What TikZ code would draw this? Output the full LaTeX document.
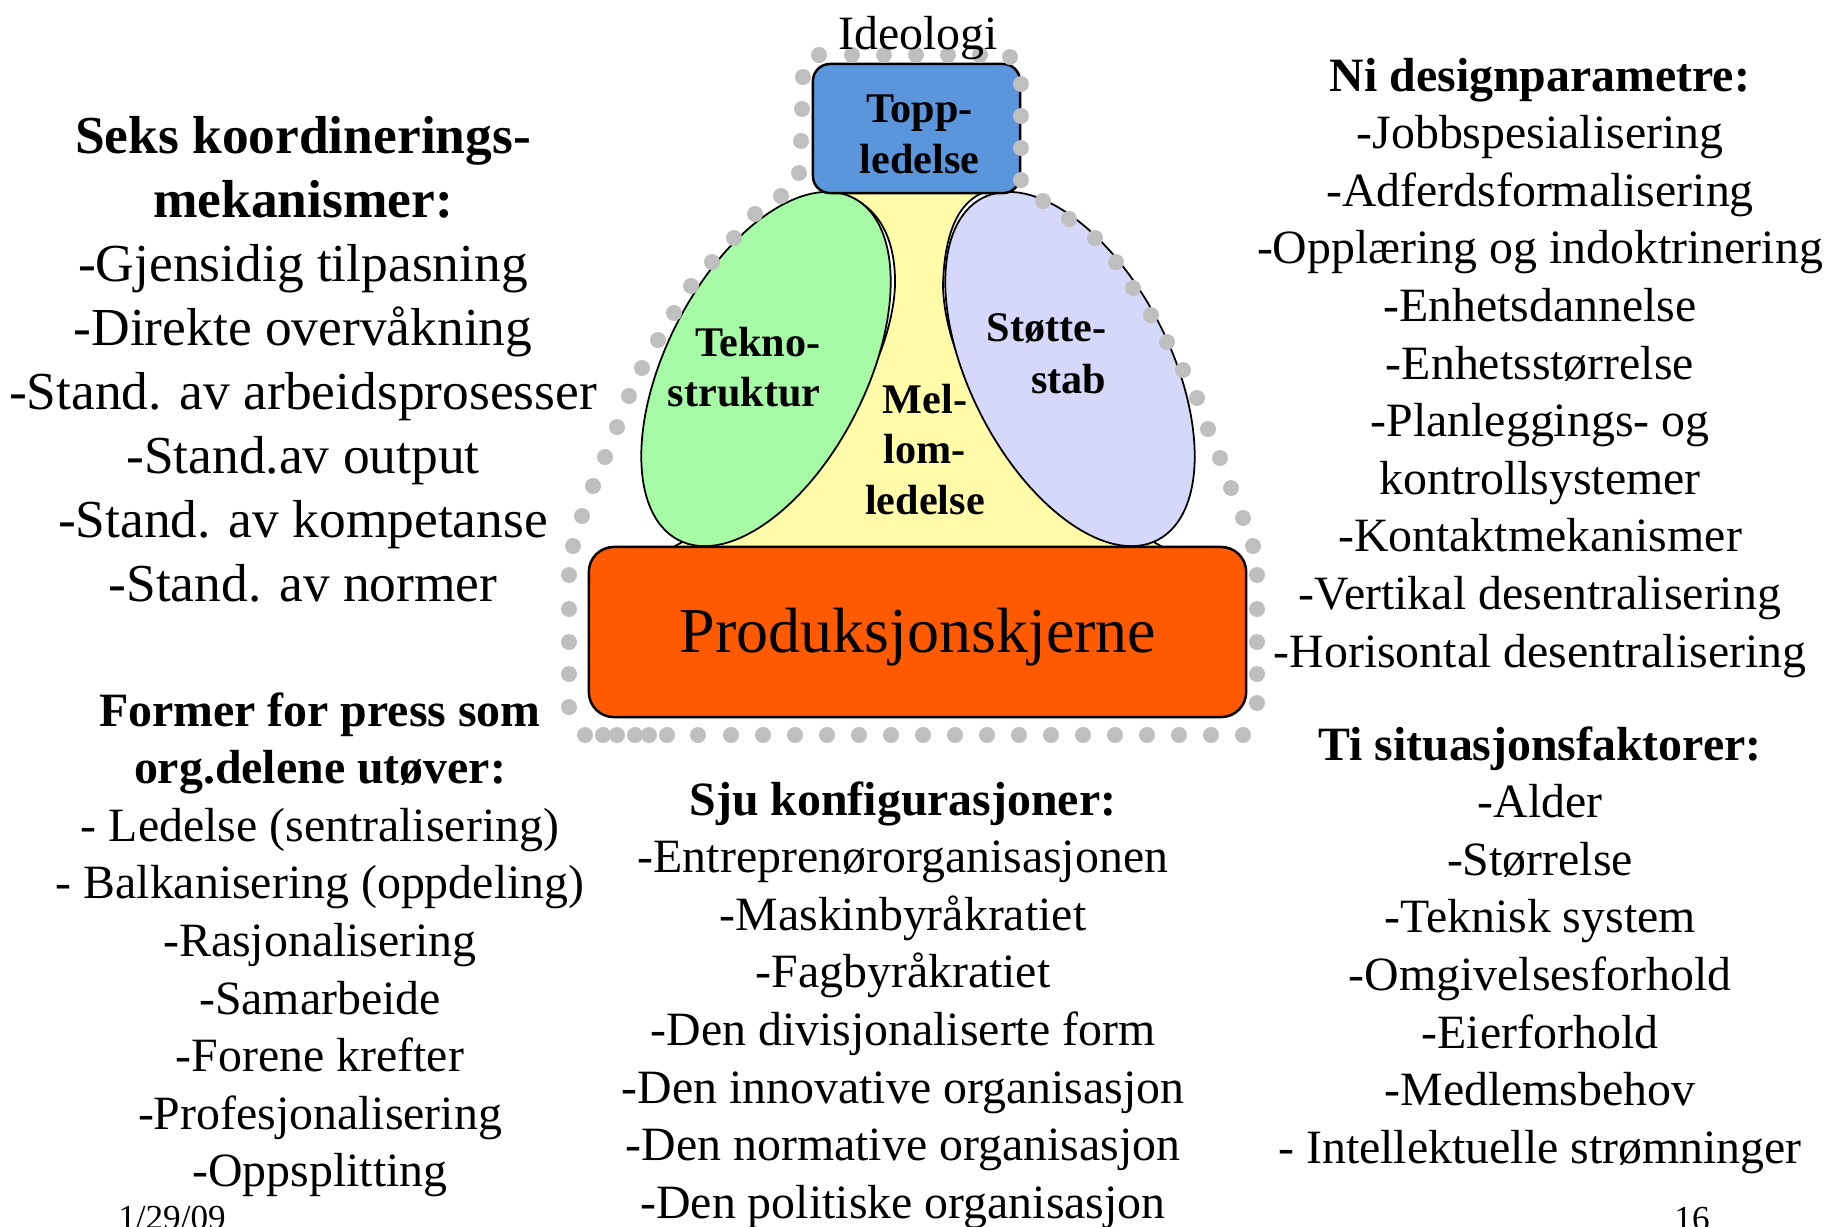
\documentclass[tikz,border=0pt]{standalone}
\usepackage{fontspec}
\setmainfont{Liberation Serif}
\usetikzlibrary{shapes.geometric}
\definecolor{toppblue}{RGB}{91,150,220}
\definecolor{teknogreen}{RGB}{166,250,166}
\definecolor{stottelilac}{RGB}{214,216,250}
\definecolor{mellomyellow}{RGB}{255,251,168}
\definecolor{kjerneorange}{RGB}{255,90,0}
\definecolor{dotgrey}{RGB}{191,191,191}
\newcommand{\headsize}{\fontsize{15.2}{18}\selectfont}
\newcommand{\listsize}{\fontsize{13.6}{16}\selectfont}
\newcommand{\partsize}{\fontsize{12}{14}\selectfont\bfseries}
\tikzset{
    part/.style={ % parts of the organisation
        draw=black,
        line width=0.7pt,
        inner sep=0pt
        },
    lobe/.style={ % tilted ellipses
        part,
        ellipse,
        line width=0.5pt,
        minimum width=3.84cm,
        minimum height=2cm
        },
    ptxt/.style={ % text inside the parts
        anchor=base,
        inner sep=0pt,
        font=\partsize
        },
    ltxt/.style={ % list lines
        anchor=base,
        inner sep=0pt,
        font=\listsize
        },
    dot/.style={
        fill=dotgrey
        }
}
\begin{document}
\begin{tikzpicture}[x=0.01cm, y=-0.01cm]
\useasboundingbox (0,0) rectangle (1829,1226);
\clip (0,0) rectangle (1829,1226);

%%%%% middle line (yellow, behind everything)
\draw[fill=mellomyellow, line width=0.5pt] (840,193)
  .. controls (880,205) and (896,240) .. (895,286)
  .. controls (893,330) and (872,385) .. (835,430)
  .. controls (780,500) and (700,530) .. (672,548)
  -- (1164,548)
  .. controls (1136,530) and (1056,500) .. (1001,430)
  .. controls (964,385) and (944,330) .. (943,286)
  .. controls (944,240) and (955,205) .. (982,193) -- cycle;

%%%%% technostructure and support staff
\node[lobe, fill=teknogreen, rotate=63] (tekno) at (766,369) {};
\node[lobe, fill=stottelilac, rotate=-63] (stotte) at (1070,369) {};

%%%%% strategic apex
\node[part, fill=toppblue, rounded corners=0.17cm,
      minimum width=2.07cm, minimum height=1.29cm] (topp) at (916.5,128.5) {};

%%%%% operating core
\node[part, fill=kjerneorange, rounded corners=0.25cm,
      minimum width=6.57cm, minimum height=1.70cm] (kjerne) at (917.5,632) {};
\node[ltxt, font=\fontsize{18.2}{22}\selectfont] (kjernetxt) at (918,652) {Produksjonskjerne};

%%%%% ideology dots
\foreach \x/\y in {819/55,852/55,884/55,916/55,948/55,980/55,1010/57,
  803/77,802/109,801/141,799/173,
  781/196,755/214,734/238,712/262,691/286,674/313,658/340,642/368,
  629/396,617/427,605/457,593/486,582/516,573/546,
  569/575,569/609,569/642,569/674,569/707,
  585/735,603/735,617/735,635/735,649/735,667/735,698/735,731/735,
  763/735,795/735,827/735,859/735,891/735,923/735,955/735,987/735,
  1019/735,1051/735,1083/735,1115/735,1147/735,1179/735,1211/735,1243/735,
  1257/703,1257/674,1257/642,1257/609,1257/575,
  1253/546,1243/518,1231/488,1220/458,1208/429,1197/398,1183/370,
  1167/342,1151/315,1133/288,1116/262,1095/238,1069/219,1043/201,
  1021/180,1021/148,1021/116,1021/84}
  \fill[dot] (\x,\y) circle[radius=8];

%%%%% labels of the parts
\node[ltxt] (ideologi) at (918,49) {Ideologi};
\node[ptxt] (topp1) at (919.5,122) {Topp-};
\node[ptxt] (topp2) at (919.5,173) {ledelse};
\node[ptxt, anchor=base east] (tekno1) at (821,356) {Tekno-};
\node[ptxt, anchor=base east] (tekno2) at (821,406) {struktur};
\node[ptxt, anchor=base east] (stotte1) at (1107,341) {Støtte-};
\node[ptxt, anchor=base east] (stotte2) at (1107,393) {stab};
\node[ptxt] (mellom1) at (925,413) {Mel-};
\node[ptxt] (mellom2) at (925,463) {lom-};
\node[ptxt] (mellom3) at (925,514) {ledelse};

%%%%% coordinating mechanisms
\foreach \t [count=\i from 0] in {\textbf{Seks koordinerings-},\textbf{mekanismer:},
  -Gjensidig tilpasning,-Direkte overvåkning,-Stand. av arbeidsprosesser,
  -Stand.av output,-Stand. av kompetanse,-Stand. av normer}
  \node[ltxt, font=\headsize] (koord\i) at (303,153+64*\i) {\t};

%%%%% pressures
\foreach \t [count=\i from 0] in {\textbf{Former for press som},\textbf{org.delene utøver:},
  - Ledelse (sentralisering),- Balkanisering (oppdeling),-Rasjonalisering,
  -Samarbeide,-Forene krefter,-Profesjonalisering,-Oppsplitting}
  \node[ltxt] (press\i) at (320,726+57.6*\i) {\t};

%%%%% configurations
\foreach \t [count=\i from 0] in {\textbf{Sju konfigurasjoner:},
  -Entreprenørorganisasjonen,-Maskinbyråkratiet,-Fagbyråkratiet,
  -Den divisjonaliserte form,-Den innovative organisasjon,
  -Den normative organisasjon,-Den politiske organisasjon}
  \node[ltxt] (konf\i) at (903,815+57.6*\i) {\t};

%%%%% design parameters
\foreach \t [count=\i from 0] in {\textbf{Ni designparametre:},
  -Jobbspesialisering,-Adferdsformalisering,-Opplæring og indoktrinering,
  -Enhetsdannelse,-Enhetsstørrelse,-Planleggings- og,kontrollsystemer,
  -Kontaktmekanismer,-Vertikal desentralisering,-Horisontal desentralisering}
  \node[ltxt] (param\i) at (1540,91+57.6*\i) {\t};

%%%%% situational factors
\foreach \t [count=\i from 0] in {\textbf{Ti situasjonsfaktorer:},
  -Alder,-Størrelse,-Teknisk system,-Omgivelsesforhold,-Eierforhold,
  -Medlemsbehov,- Intellektuelle strømninger}
  \node[ltxt] (faktor\i) at (1540,760+57.6*\i) {\t};

%%%%% footer
\node[ltxt, font=\fontsize{10}{12}\selectfont] (dato) at (172,1229) {1/29/09};
\node[ltxt, font=\fontsize{10}{12}\selectfont] (side) at (1692,1230) {16};

\end{tikzpicture}
\end{document}
